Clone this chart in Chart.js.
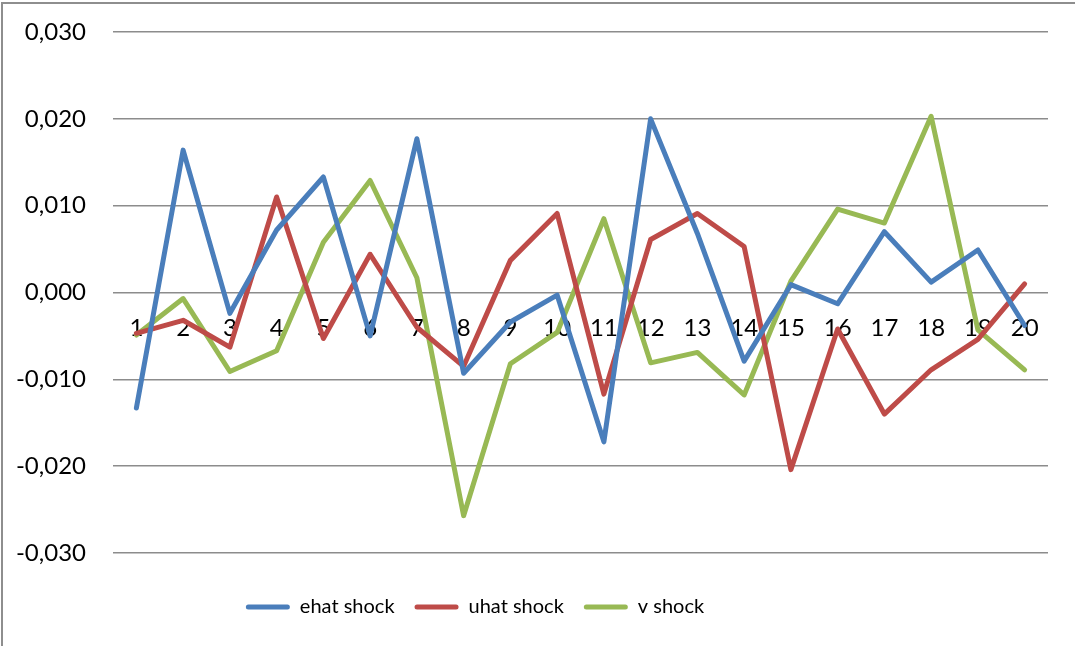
<!DOCTYPE html>
<html>
<head>
<meta charset="utf-8">
<script src="https://cdn.jsdelivr.net/npm/chart.js@4.4.1/dist/chart.umd.min.js"></script>
<style>
  html, body { margin: 0; padding: 0; background: #fff; }
  #wrap { width: 1075px; height: 646px; position: relative; }
</style>
</head>
<body>
<div id="wrap"><canvas id="chart" width="1075" height="646"></canvas></div>
<script>
// Periods on the horizontal axis
const periods = ['1','2','3','4','5','6','7','8','9','10','11','12','13','14','15','16','17','18','19','20'];

// Shock series
const ehatShock = [-0.0133, 0.0164, -0.0024, 0.0072, 0.0133, -0.0050, 0.0177, -0.0093, -0.0034, -0.0003,
                   -0.0172, 0.0200, 0.0068, -0.0079, 0.0009, -0.0013, 0.0070, 0.0012, 0.0049, -0.0038];
const uhatShock = [-0.0047, -0.0032, -0.0063, 0.0110, -0.0053, 0.0044, -0.0040, -0.0085, 0.0037, 0.0091,
                   -0.0117, 0.0061, 0.0091, 0.0053, -0.0204, -0.0042, -0.0140, -0.0089, -0.0054, 0.0010];
const vShock    = [-0.0049, -0.0007, -0.0091, -0.0067, 0.0058, 0.0129, 0.0017, -0.0257, -0.0082, -0.0046,
                   0.0085, -0.0081, -0.0069, -0.0118, 0.0013, 0.0096, 0.0080, 0.0203, -0.0043, -0.0089];

// Value axis labels, bottom to top
const yTickLabels = ['-0,030', '-0,020', '-0,010', '0,000', '0,010', '0,020', '0,030'];

const FONT = 'Lato, "Open Sans", sans-serif';

// White background and the frame's left/top edges
const framePlugin = {
  id: 'frame',
  beforeDraw(chart) {
    const ctx = chart.ctx;
    ctx.save();
    ctx.fillStyle = '#ffffff';
    ctx.fillRect(0, 0, chart.width, chart.height);
    ctx.strokeStyle = '#8e8e8e';
    ctx.lineWidth = 2;
    ctx.beginPath();
    ctx.moveTo(2, chart.height);
    ctx.lineTo(2, 3);
    ctx.lineTo(chart.width, 3);
    ctx.stroke();
    ctx.restore();
  }
};

// Place the legend row below the plot, centred a little left of the page centre
const legendPlacement = {
  id: 'legendPlacement',
  afterLayout(chart) {
    const lg = chart.legend;
    if (!lg) return;
    const w = lg.right - lg.left;
    const centre = 475;
    lg.left = centre - w / 2;
    lg.right = centre + w / 2;
    lg.top += 24;
    lg.bottom += 24;
  }
};

const makeSet = (label, data, color) => ({
  label,
  data,
  borderColor: color,
  backgroundColor: color,
  borderWidth: 5,
  borderJoinStyle: 'round',
  borderCapStyle: 'round',
  pointRadius: 0,
  pointHoverRadius: 0,
  tension: 0,
  fill: false
});

new Chart(document.getElementById('chart'), {
  type: 'line',
  data: {
    labels: periods,
    datasets: [
      makeSet('ehat shock', ehatShock, '#4a7ebb'),
      makeSet('uhat shock', uhatShock, '#be4b48'),
      makeSet('v shock', vShock, '#98b954')
    ]
  },
  options: {
    responsive: false,
    animation: false,
    layout: { padding: { left: 0, right: 27, top: 32, bottom: 43 } },
    scales: {
      x: {
        type: 'category',
        offset: true,
        position: { y: 0 },
        grid: { display: false, drawTicks: false },
        border: { display: false },
        ticks: {
          color: '#000',
          font: { family: FONT, size: 24 },
          padding: 21,
          autoSkip: false,
          maxRotation: 0
        }
      },
      y: {
        min: -0.03,
        max: 0.03,
        grid: {
          color: '#8c8c8c',
          lineWidth: 1.5,
          drawTicks: true,
          tickLength: 27,
          tickColor: 'rgba(0,0,0,0)'
        },
        border: { display: false },
        afterFit(scale) { scale.width = 113; },
        ticks: {
          stepSize: 0.01,
          color: '#000',
          font: { family: FONT, size: 24 },
          padding: 0,
          callback: (v, i) => yTickLabels[i]
        }
      }
    },
    plugins: {
      tooltip: { enabled: false },
      legend: {
        position: 'bottom',
        labels: {
          color: '#000',
          font: { family: FONT, size: 20 },
          boxWidth: 44,
          boxHeight: 5,
          padding: 20,
          generateLabels(chart) {
            return Chart.defaults.plugins.legend.labels.generateLabels(chart).map(l => ({
              ...l, lineWidth: 0, borderRadius: 2.5
            }));
          }
        }
      }
    }
  },
  plugins: [framePlugin, legendPlacement]
});
</script>
</body>
</html>
